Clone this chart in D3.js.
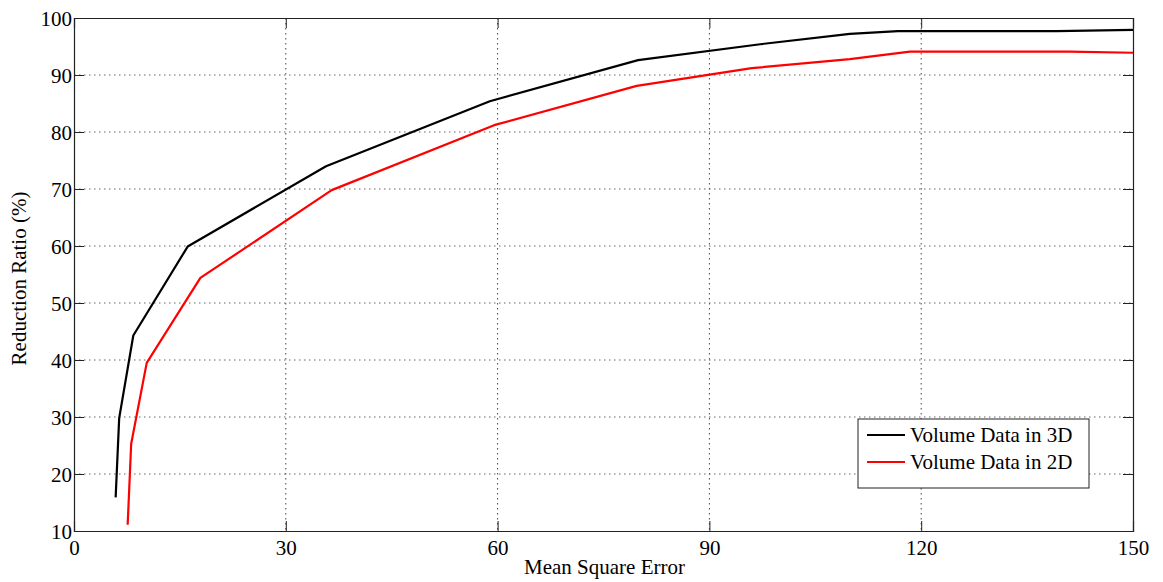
<!DOCTYPE html>
<html><head><meta charset="utf-8">
<script src="https://cdn.jsdelivr.net/npm/d3@7/dist/d3.min.js"></script>
<style>body{margin:0;background:#fff}svg{display:block}</style>
</head><body><svg id="c" width="1163" height="582"></svg>
<script>
const xTicks = [0, 30, 60, 90, 120, 150];
const yTicks = [10, 20, 30, 40, 50, 60, 70, 80, 90, 100];
const seriesNames = ["Volume Data in 3D", "Volume Data in 2D"];
const seriesColors = ["#000000", "#ff0000"];
const mse3D = [5.9, 6.4, 8.4, 16.1, 35.7, 58.9, 79.9, 97.2, 109.9, 116.7, 139.2, 150];
const ratio3D = [15.9, 29.8, 44.3, 59.9, 74.0, 85.4, 92.6, 95.4, 97.2, 97.7, 97.7, 97.9];
const mse2D = [7.6, 8.1, 10.3, 17.9, 36.5, 59.5, 79.7, 96.0, 109.9, 118.4, 141.0, 150];
const ratio2D = [11.1, 25.3, 39.5, 54.4, 69.8, 81.2, 88.1, 91.2, 92.8, 94.1, 94.1, 93.9];

const FONT = '"Liberation Serif", "Times New Roman", "DejaVu Serif", serif';
const svg = d3.select("#c");
const L = 74, R = 1133, T = 18, B = 531;
const x = d3.scaleLinear().domain([0, 150]).range([L, R]);
const y = d3.scaleLinear().domain([10, 100]).range([B, T]);

// grid
const g = svg.append("g");
g.selectAll(".gx").data(xTicks.slice(1, -1)).enter().append("line")
  .attr("x1", d => x(d)).attr("x2", d => x(d)).attr("y1", T).attr("y2", B)
  .attr("stroke", "#444").attr("stroke-width", 1).attr("stroke-dasharray", "1.5,3.5");
g.selectAll(".gy").data(yTicks.slice(1, -1)).enter().append("line")
  .attr("x1", L).attr("x2", R).attr("y1", d => y(d)).attr("y2", d => y(d))
  .attr("stroke", "#666").attr("stroke-width", 1).attr("stroke-dasharray", "1.5,3.5");

// axes (inward ticks, MATLAB style)
const fmt = d3.format("d");
const ax = svg.append("g").attr("transform", `translate(0,${B})`)
  .call(d3.axisBottom(x).tickValues(xTicks).tickSize(-10).tickPadding(9).tickFormat(fmt));
const axT = svg.append("g").attr("transform", `translate(0,${T})`)
  .call(d3.axisTop(x).tickValues(xTicks).tickSize(-10).tickFormat(""));
const ay = svg.append("g").attr("transform", `translate(${L},0)`)
  .call(d3.axisLeft(y).tickValues(yTicks).tickSize(-10).tickPadding(2).tickFormat(fmt));
const ayR = svg.append("g").attr("transform", `translate(${R},0)`)
  .call(d3.axisRight(y).tickValues(yTicks).tickSize(-10).tickFormat(""));
[ax, axT, ay, ayR].forEach(a => {
  a.attr("font-family", FONT).attr("font-size", 21);
  a.selectAll("path.domain").attr("stroke", "#222").attr("stroke-width", 1.2);
  a.selectAll(".tick line").attr("stroke", "#222");
  a.selectAll("text").attr("fill", "#000");
});
ay.selectAll("text").attr("dy", "0.34em");

// lines
const line = d3.line().x(d => x(d[0])).y(d => y(d[1]));
const data = [d3.zip(mse3D, ratio3D), d3.zip(mse2D, ratio2D)];
svg.selectAll(".s").data(data).enter().append("path")
  .attr("d", line).attr("fill", "none")
  .attr("stroke", (d, i) => seriesColors[i]).attr("stroke-width", 2.2)
  .attr("stroke-linejoin", "round");

// labels
svg.append("text").attr("x", (L + R) / 2 + 1).attr("y", 574).attr("text-anchor", "middle")
  .attr("font-family", FONT).attr("font-size", 21).text("Mean Square Error");
svg.append("text").attr("transform", `translate(26,${(T + B) / 2 + 4}) rotate(-90)`)
  .attr("text-anchor", "middle").attr("font-family", FONT).attr("font-size", 21).text("Reduction Ratio (%)");

// legend
const lg = svg.append("g");
lg.append("rect").attr("x", 858).attr("y", 419).attr("width", 231).attr("height", 69)
  .attr("fill", "#fff").attr("stroke", "#222").attr("stroke-width", 1);
seriesNames.forEach((n, i) => {
  const yy = 435 + i * 27;
  lg.append("line").attr("x1", 867).attr("x2", 905).attr("y1", yy).attr("y2", yy)
    .attr("stroke", seriesColors[i]).attr("stroke-width", 2);
  lg.append("text").attr("x", 910).attr("y", yy).attr("dy", "0.35em")
    .attr("font-family", FONT).attr("font-size", 21).text(n);
});
</script></body></html>
